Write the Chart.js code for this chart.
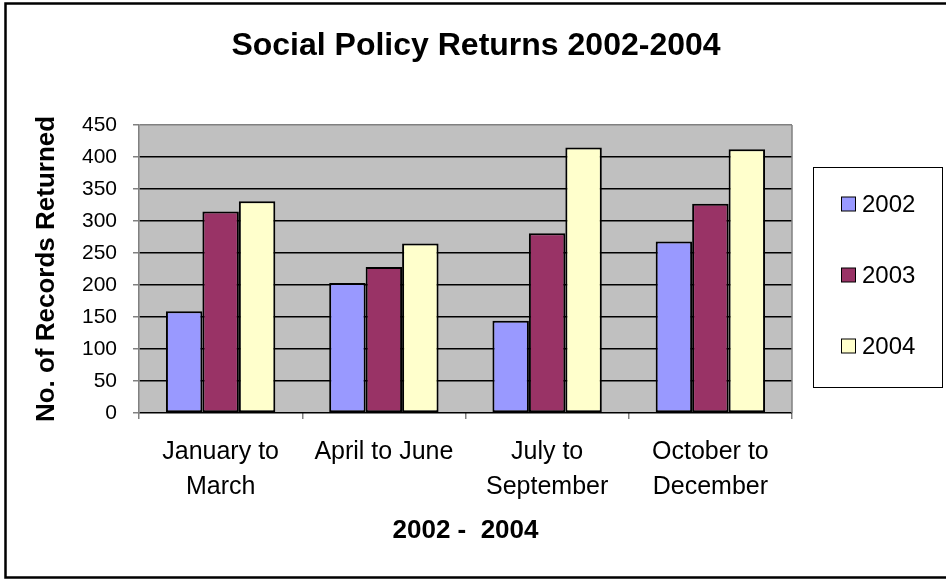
<!DOCTYPE html>
<html><head><meta charset="utf-8">
<script src="https://cdn.jsdelivr.net/npm/chart.js@4.4.1/dist/chart.umd.min.js"></script>
<style>html,body{margin:0;padding:0;background:#fff;}#wrap{width:946px;height:581px;}</style>
</head><body><div id="wrap"><canvas id="c" width="946" height="581"></canvas></div>
<script>
const categories = [["January to","March"],"April to June",["July to","September"],["October to","December"]];
const seriesLabels = ["2002","2003","2004"];
const values2002 = [159,203,144,268];
const values2003 = [315,228,281,327];
const values2004 = [331,265,415,412];
const seriesColors = ["#9999FF","#993366","#FFFFCC"];
const yMin = 0, yMax = 450, yStep = 50;
const chartTitle = "Social Policy Returns 2002-2004";
const xTitle = "2002 -  2004";
const yTitle = "No. of Records Returned";

const FONT = "'Liberation Sans', Arial, sans-serif";

const bgPlugin = {
  id: 'bg',
  beforeDraw(chart) {
    const {ctx, chartArea: a} = chart;
    ctx.save();
    ctx.fillStyle = '#fff';
    ctx.fillRect(0, 0, chart.width, chart.height);
    ctx.fillStyle = '#C0C0C0';
    ctx.fillRect(a.left, a.top, a.right - a.left, a.bottom - a.top);
    ctx.restore();
  },
  beforeDatasetsDraw(chart) {
    const {ctx, chartArea: a} = chart;
    ctx.save();
    ctx.strokeStyle = '#808080';
    ctx.lineWidth = 1.5;
    ctx.beginPath();
    ctx.moveTo(a.right, a.top);
    ctx.lineTo(a.right, a.bottom);
    ctx.stroke();
    ctx.restore();
  },
  afterDraw(chart) {
    const {ctx} = chart;
    ctx.save();
    // title
    ctx.fillStyle = '#000';
    ctx.font = "bold 32px " + FONT;
    ctx.textAlign = 'center';
    ctx.textBaseline = 'middle';
    ctx.fillText(chartTitle, 476, 46);
    // outer frame
    ctx.strokeStyle = '#000';
    ctx.lineWidth = 2.5;
    ctx.beginPath();
    ctx.moveTo(950, 3.5);
    ctx.lineTo(5.5, 3.5);
    ctx.lineTo(5.5, 577.5);
    ctx.lineTo(950, 577.5);
    ctx.stroke();
    // legend
    ctx.lineWidth = 1;
    ctx.strokeRect(813.5, 167.5, 129, 220);
    ctx.font = "24px " + FONT;
    ctx.textBaseline = 'middle';
    ctx.textAlign = 'left';
    chart.data.datasets.forEach((ds, i) => {
      const cy = 204 + i * 71;
      ctx.fillStyle = ds.backgroundColor;
      ctx.fillRect(841.5, cy - 7, 14, 14);
      ctx.strokeStyle = '#000';
      ctx.lineWidth = 1;
      ctx.strokeRect(841.5, cy - 7, 14, 14);
      ctx.fillStyle = '#000';
      ctx.fillText(ds.label, 862, cy + 1);
    });
    ctx.restore();
  }
};

const yTickValues = [];
for (let v = yMin; v <= yMax; v += yStep) yTickValues.push(v);

new Chart(document.getElementById('c'), {
  type: 'bar',
  data: {
    labels: categories,
    datasets: [values2002, values2003, values2004].map((vals, i) => ({
      label: seriesLabels[i],
      data: vals,
      backgroundColor: seriesColors[i],
      borderColor: '#000',
      borderWidth: 2,
      borderSkipped: false,
      barPercentage: 1,
      categoryPercentage: 0.67
    }))
  },
  options: {
    responsive: false,
    animation: false,
    devicePixelRatio: 1,
    layout: {padding: {left: 8, right: 154, top: 125, bottom: 0}},
    plugins: {
      legend: {display: false},
      tooltip: {enabled: false},
      title: {display: false}
    },
    scales: {
      x: {
        grid: {offset: true, drawOnChartArea: false, drawTicks: true, tickLength: 6, color: '#808080', lineWidth: 1.5},
        border: {display: false},
        ticks: {color: '#000', font: {family: FONT, size: 25, lineHeight: 1.4}, padding: 16, maxRotation: 0, autoSkip: false},
        title: {display: true, text: xTitle, color: '#000', font: {family: FONT, size: 26, weight: 'bold', lineHeight: 1.2}, padding: {top: 8, bottom: 35}},
        afterFit: s => { s.height = 168; }
      },
      y: {
        min: yMin, max: yMax,
        afterBuildTicks: s => { s.ticks = yTickValues.map(v => ({value: v})); },
        grid: {
          color: c => (c.tick && c.tick.value === yMax) ? '#808080' : '#000',
          tickColor: '#808080', tickLength: 6, lineWidth: 1.5
        },
        border: {display: true, color: '#808080', width: 1.5},
        ticks: {color: '#000', font: {family: FONT, size: 21}, padding: 16},
        title: {display: true, text: yTitle, color: '#000', font: {family: FONT, size: 26, weight: 'bold', lineHeight: 1.2}, padding: {top: 23, bottom: 0}},
        afterFit: s => { s.width = 131; }
      }
    }
  },
  plugins: [bgPlugin]
});
</script>
</body></html>
